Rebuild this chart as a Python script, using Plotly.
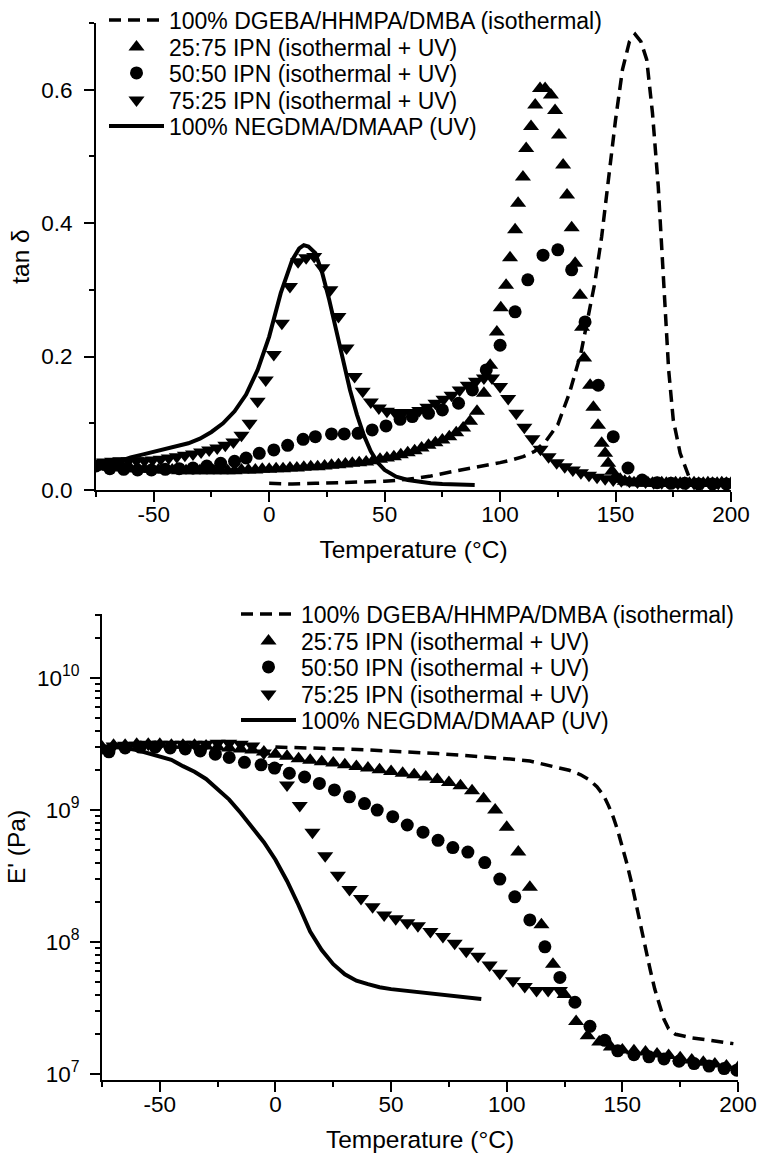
import plotly.graph_objects as go

FONT = "Liberation Sans, Arial, Helvetica, sans-serif"

series_names = [
    "100% DGEBA/HHMPA/DMBA (isothermal)",
    "25:75 IPN (isothermal + UV)",
    "50:50 IPN (isothermal + UV)",
    "75:25 IPN (isothermal + UV)",
    "100% NEGDMA/DMAAP (UV)",
]

# ---------------- top panel: tan delta ----------------
tan_dgeba_T = [0, 5, 10, 20, 30, 40, 50, 60, 70, 80, 90, 100, 105, 110, 115, 120, 125, 130, 135,
               138, 141, 144, 147, 150, 153, 156, 158.5, 161, 163.5, 166, 168.5, 170, 171.5, 173,
               175, 178, 182, 186, 190]
tan_dgeba = [0.010, 0.009, 0.009, 0.010, 0.011, 0.012, 0.013, 0.016, 0.021, 0.028, 0.034, 0.041,
             0.045, 0.050, 0.058, 0.074, 0.098, 0.145, 0.205, 0.255, 0.310, 0.380, 0.470, 0.555,
             0.630, 0.672, 0.683, 0.672, 0.645, 0.565, 0.455, 0.360, 0.260, 0.180, 0.105, 0.055,
             0.018, 0.010, 0.008]

tan_2575_T = [-75, -72, -69, -66, -63, -60, -57, -54, -51, -48, -45, -42, -39, -36, -33, -30, -27,
              -24, -21, -18, -15, -12, -9, -6, -3, 0, 3, 6, 9, 12, 15, 18, 21, 24, 27, 30, 33, 36,
              39, 42, 45, 48, 51, 54, 57, 60, 63, 66, 69, 72, 75, 78, 81, 84, 87, 90, 93,
              95.7, 98.6, 100.3, 102.6, 104.3, 106.5, 107.8, 109.9, 111.3, 113.4, 115.2, 117.3,
              119.5, 122, 123.8, 125.5, 127.3, 129, 131, 132.5, 134.6, 135.5, 136.4, 139, 140.4,
              142.4, 144, 145.5, 146.8, 148.5, 150, 152, 154, 156, 158, 160, 162, 164, 166, 168,
              170, 172, 174, 176, 178, 180, 182, 184, 186, 188, 190, 192, 194, 196, 198, 200]
tan_2575 = [0.035, 0.035, 0.034, 0.034, 0.033, 0.032, 0.032, 0.031, 0.031, 0.030, 0.030, 0.030,
            0.029, 0.029, 0.029, 0.029, 0.029, 0.029, 0.029, 0.029, 0.029, 0.030, 0.030, 0.030,
            0.031, 0.031, 0.032, 0.032, 0.033, 0.033, 0.034, 0.035, 0.035, 0.036, 0.037, 0.038,
            0.039, 0.040, 0.041, 0.042, 0.044, 0.046, 0.048, 0.050, 0.053, 0.056, 0.059, 0.063,
            0.067, 0.071, 0.075, 0.080, 0.086, 0.093, 0.103, 0.118, 0.145,
            0.187, 0.237, 0.273, 0.307, 0.348, 0.390, 0.430, 0.469, 0.512, 0.545, 0.577, 0.602,
            0.602, 0.592, 0.569, 0.532, 0.487, 0.442, 0.393, 0.340, 0.292, 0.244, 0.198, 0.157,
            0.124, 0.097, 0.070, 0.055, 0.040, 0.028, 0.020, 0.016, 0.013, 0.012, 0.011, 0.011,
            0.010, 0.011, 0.010, 0.010, 0.011, 0.010, 0.010, 0.011, 0.010, 0.010, 0.010, 0.011,
            0.010, 0.010, 0.011, 0.010, 0.010, 0.011, 0.010, 0.010]

tan_5050_T = [-75, -69, -63, -57, -51, -45, -39, -33, -27, -21, -15, -10, -4.3, 2, 8, 14.7, 20, 27,
              32.5, 38.5, 44.6, 50.6, 56.7, 62, 69, 75, 82, 88, 94, 100, 106.5, 112, 118.6, 125,
              131, 136.8, 142.5, 149, 155.4, 161.5, 168, 174, 180, 186, 192, 198]
tan_5050 = [0.036, 0.032, 0.031, 0.030, 0.030, 0.031, 0.032, 0.033, 0.036, 0.040, 0.043, 0.048,
            0.055, 0.060, 0.067, 0.076, 0.080, 0.084, 0.084, 0.085, 0.090, 0.096, 0.106, 0.110,
            0.115, 0.120, 0.130, 0.150, 0.180, 0.217, 0.267, 0.315, 0.352, 0.360, 0.330, 0.252,
            0.157, 0.080, 0.033, 0.015, 0.011, 0.010, 0.010, 0.009, 0.009, 0.009]

tan_7525_T = [-75, -71.5, -68, -64.5, -61, -57.5, -54, -50.5, -47, -43.5, -40, -36.5, -33, -29.5,
              -26, -22.5, -19, -15.5, -12, -8.5, -5, -1.5, 2, 5.5, 9, 12.5, 16, 19.5, 23, 26.5, 30,
              33.5, 37, 40.5, 44, 47.5, 51, 54.5, 58, 61.5, 65, 68.5, 72, 75.5, 79, 82.5, 86, 89.5,
              93, 96.5, 100, 103.5, 107, 110.5, 114, 117.5, 121, 124.5, 128, 131.5, 135, 138.5,
              142, 145.5, 149, 152.5, 156, 159.5, 163, 166.5, 170, 173.5, 177, 180.5, 184, 187.5,
              191, 194.5, 198]
tan_7525 = [0.040, 0.042, 0.043, 0.044, 0.044, 0.044, 0.044, 0.045, 0.046, 0.048, 0.050, 0.052,
            0.054, 0.057, 0.060, 0.063, 0.067, 0.072, 0.082, 0.100, 0.133, 0.165, 0.203, 0.250,
            0.305, 0.342, 0.348, 0.350, 0.333, 0.300, 0.260, 0.213, 0.170, 0.148, 0.132, 0.123,
            0.118, 0.116, 0.116, 0.116, 0.119, 0.124, 0.130, 0.136, 0.142, 0.150, 0.157, 0.163,
            0.168, 0.168, 0.155, 0.137, 0.115, 0.094, 0.077, 0.061, 0.050, 0.041, 0.035, 0.030,
            0.026, 0.022, 0.019, 0.017, 0.015, 0.014, 0.013, 0.012, 0.012, 0.011, 0.011, 0.011,
            0.010, 0.010, 0.010, 0.010, 0.010, 0.010, 0.010]

tan_negdma_T = [-70, -65, -60, -55, -50, -45, -40, -35, -30, -25, -20, -15, -10, -5, 0, 5, 10, 13,
                15, 17, 20, 23, 26, 29, 32, 35, 38, 41, 44, 47, 50, 55, 60, 65, 70, 75, 80, 85, 89]
tan_negdma = [0.037, 0.043, 0.049, 0.053, 0.057, 0.061, 0.065, 0.070, 0.077, 0.087, 0.100, 0.118,
              0.143, 0.180, 0.230, 0.295, 0.345, 0.362, 0.367, 0.365, 0.355, 0.325, 0.285, 0.240,
              0.195, 0.150, 0.113, 0.082, 0.058, 0.041, 0.030, 0.020, 0.015, 0.012, 0.010, 0.009,
              0.008, 0.008, 0.0075]

# ---------------- bottom panel: storage modulus ----------------
E_dgeba_T = [0, 10, 20, 30, 40, 50, 60, 70, 80, 90, 100, 110, 120, 127, 132, 136, 139, 142, 144,
             146, 148, 150, 152, 154, 156, 158, 160, 162, 164, 166, 168, 170, 173, 176, 180, 186,
             192, 198]
E_dgeba = [3.0e9, 2.98e9, 2.95e9, 2.9e9, 2.85e9, 2.8e9, 2.75e9, 2.68e9, 2.6e9, 2.53e9, 2.45e9,
           2.35e9, 2.15e9, 2.0e9, 1.85e9, 1.68e9, 1.5e9, 1.28e9, 1.08e9, 8.9e8, 7.0e8, 5.3e8,
           3.9e8, 2.8e8, 1.9e8, 1.3e8, 8.8e7, 6.2e7, 4.4e7, 3.3e7, 2.6e7, 2.2e7, 2.0e7, 1.95e7,
           1.88e7, 1.82e7, 1.76e7, 1.7e7]

E_2575_T = [-75, -70, -65, -60, -55, -50, -45, -40, -35, -30, -25, -20, -15, -10, -5, 0, 5, 10,
            15, 20, 25, 30, 35, 40, 45, 50, 55, 60, 65, 70, 75, 80, 85, 90, 95, 100, 105, 110,
            115, 120, 125, 130, 135, 140, 145, 150, 155, 160, 165, 170, 175, 180, 185, 190, 195, 200]
E_2575 = [3.0e9, 3.1e9, 3.1e9, 3.15e9, 3.15e9, 3.15e9, 3.1e9, 3.1e9, 3.1e9, 3.05e9, 3.0e9,
          2.95e9, 2.9e9, 2.85e9, 2.75e9, 2.65e9, 2.55e9, 2.45e9, 2.38e9, 2.32e9, 2.27e9, 2.2e9,
          2.14e9, 2.08e9, 2.02e9, 1.96e9, 1.9e9, 1.85e9, 1.78e9, 1.7e9, 1.62e9, 1.53e9, 1.4e9,
          1.22e9, 1.0e9, 7.4e8, 4.8e8, 2.6e8, 1.35e8, 6.8e7, 4.0e7, 2.5e7, 1.95e7, 1.75e7, 1.6e7,
          1.52e7, 1.5e7, 1.47e7, 1.42e7, 1.38e7, 1.33e7, 1.28e7, 1.23e7, 1.19e7, 1.15e7, 1.12e7]

E_5050_T = [-72, -65, -58.5, -52, -45.5, -39, -32.5, -26, -20, -13.4, -6.2, -0.4, 6, 12.6, 19,
            25.5, 32, 38.5, 44, 50.7, 57, 63.8, 70.3, 76.7, 83.2, 90.5, 97, 103.5, 110, 116.5,
            123, 129.5, 136, 142.4, 148, 155, 161.5, 168, 174.5, 181, 187.5, 194, 199.5]
E_5050 = [2.76e9, 2.95e9, 3.0e9, 3.0e9, 2.95e9, 2.9e9, 2.8e9, 2.65e9, 2.5e9, 2.3e9, 2.2e9,
          2.08e9, 1.9e9, 1.78e9, 1.59e9, 1.42e9, 1.26e9, 1.12e9, 1.0e9, 8.9e8, 7.7e8, 6.8e8,
          5.9e8, 5.2e8, 4.8e8, 4.0e8, 3.0e8, 2.2e8, 1.47e8, 9.2e7, 5.4e7, 3.5e7, 2.3e7, 1.8e7,
          1.5e7, 1.4e7, 1.35e7, 1.3e7, 1.25e7, 1.2e7, 1.15e7, 1.1e7, 1.07e7]

E_7525_T = [-75, -70, -65, -60, -55, -50, -45, -40, -35, -30, -25, -20, -15, -10, -5, 0, 5, 10.5,
            16, 21.5, 27, 32, 37, 42, 47, 52, 57, 61.6, 67, 72.4, 77.5, 82.5, 87.6, 92.6, 97,
            102.7, 107.8, 112.9, 117.9, 123]
E_7525 = [2.95e9, 3.05e9, 3.1e9, 3.1e9, 3.15e9, 3.15e9, 3.15e9, 3.15e9, 3.15e9, 3.15e9, 3.2e9,
          3.2e9, 3.15e9, 3.05e9, 2.7e9, 2.1e9, 1.55e9, 1.08e9, 6.8e8, 4.5e8, 3.2e8, 2.5e8, 2.14e8,
          1.85e8, 1.6e8, 1.5e8, 1.4e8, 1.33e8, 1.2e8, 1.1e8, 9.8e7, 8.5e7, 7.8e7, 6.7e7, 5.8e7,
          5.1e7, 4.6e7, 4.3e7, 4.3e7, 4.3e7]

E_negdma_T = [-70, -65, -60, -55, -50, -45, -40, -35, -30, -25, -20, -15, -10, -5, 0, 5, 10, 15,
              20, 25, 30, 35, 40, 45, 50, 55, 60, 65, 70, 75, 80, 85, 89]
E_negdma = [3.0e9, 2.95e9, 2.85e9, 2.7e9, 2.55e9, 2.4e9, 2.15e9, 1.95e9, 1.72e9, 1.45e9, 1.2e9,
            9.5e8, 7.4e8, 5.7e8, 4.2e8, 2.9e8, 1.9e8, 1.2e8, 8.7e7, 6.8e7, 5.7e7, 5.1e7, 4.8e7,
            4.55e7, 4.4e7, 4.3e7, 4.2e7, 4.1e7, 4.0e7, 3.9e7, 3.85e7, 3.78e7, 3.7e7]

x_ticks = [-50, 0, 50, 100, 150, 200]
x_ticktext = ["-50", "0", "50", "100", "150", "200"]
tan_ticks = [0.0, 0.2, 0.4, 0.6]
tan_ticktext = ["0.0", "0.2", "0.4", "0.6"]
E_ticks = [1e7, 1e8, 1e9, 1e10]
E_exponents = ["7", "8", "9", "10"]
E_ticktext = ["10<sup>%s</sup>" % e for e in E_exponents]
E_minor = [m * 10 ** d for d in range(7, 11) for m in range(2, 10)]
E_minor = [v for v in E_minor if v < 3.1e10]

# legend row centres (pixels from top of the figure)
legend_rows_top = [20, 47, 73, 100, 126]
legend_rows_bottom = [614, 641, 667, 694, 720]

W, H = 758, 1156
TICK_FS = 22.5
TITLE_FS = 24.5
LEG_FS = 23
DASH = "12px,7px"
fig = go.Figure()

styles = [
    dict(mode="lines", line=dict(color="black", width=3.5, dash=DASH)),
    dict(mode="markers", marker=dict(symbol="triangle-up", size=14, color="black")),
    dict(mode="markers", marker=dict(symbol="circle", size=13, color="black")),
    dict(mode="markers", marker=dict(symbol="triangle-down", size=14, color="black")),
    dict(mode="lines", line=dict(color="black", width=4)),
]


def add_panel(xa, ya, first_legend, data):
    for i, ((T, V), st) in enumerate(zip(data, styles)):
        k = first_legend + i
        leg = "legend" if k == 1 else "legend%d" % k
        fig.add_trace(go.Scatter(x=T, y=V, name=series_names[i], xaxis=xa, yaxis=ya,
                                 legend=leg, **st))


add_panel("x", "y", 1, [(tan_dgeba_T, tan_dgeba), (tan_2575_T, tan_2575),
                        (tan_5050_T, tan_5050), (tan_7525_T, tan_7525),
                        (tan_negdma_T, tan_negdma)])
add_panel("x2", "y2", 6, [(E_dgeba_T, E_dgeba), (E_2575_T, E_2575),
                          (E_5050_T, E_5050), (E_7525_T, E_7525),
                          (E_negdma_T, E_negdma)])

tickfont = dict(size=TICK_FS, color="black", family=FONT)
titlefont = dict(size=TITLE_FS, color="black", family=FONT)
minor_style = dict(ticks="outside", ticklen=5, tickwidth=2, tickcolor="black")
axis_common = dict(showline=True, linecolor="black", linewidth=2, showgrid=False, zeroline=False,
                   ticks="outside", ticklen=10, tickwidth=2, tickcolor="black",
                   tickfont=tickfont, mirror=False)

xcommon = dict(axis_common, range=[-75, 200], tickmode="array", tickvals=x_ticks,
               ticktext=x_ticktext, ticklabelstandoff=-7,
               minor=dict(minor_style, dtick=25, tick0=0),
               title=dict(text="Temperature (°C)", font=titlefont, standoff=15))

layout = dict(
    width=W, height=H,
    margin=dict(l=0, r=0, t=0, b=0, autoexpand=False),
    paper_bgcolor="white", plot_bgcolor="white",
    font=dict(family=FONT, size=20, color="black"),
    showlegend=True,
    xaxis=dict(xcommon, domain=[96 / W, 731 / W], anchor="y"),
    yaxis=dict(axis_common, domain=[1 - 490 / H, 1 - 23 / H], anchor="x", range=[0, 0.7],
               tickmode="array", tickvals=tan_ticks, ticktext=tan_ticktext, ticklabelstandoff=7,
               minor=dict(minor_style, dtick=0.1, tick0=0),
               title=dict(text="tan δ", font=titlefont, standoff=5)),
    xaxis2=dict(xcommon, domain=[102 / W, 738 / W], anchor="y2"),
    yaxis2=dict(axis_common, domain=[1 - 1080 / H, 1 - 614 / H], anchor="x2", type="log",
                range=[6.955, 10.485], tickmode="array", tickvals=E_ticks, ticktext=E_ticktext,
                ticklabelstandoff=6,
                minor=dict(minor_style, tickmode="array", tickvals=E_minor),
                title=dict(text="E' (Pa)", font=titlefont, standoff=4)),
)

for j, row in enumerate(legend_rows_top + legend_rows_bottom):
    k = j + 1
    key = "legend" if k == 1 else "legend%d" % k
    lx = 104 if j < 5 else 236
    layout[key] = dict(x=lx / W, y=1 - row / H, xanchor="left", yanchor="middle",
                       bgcolor="rgba(0,0,0,0)", borderwidth=0,
                       font=dict(size=LEG_FS, color="black", family=FONT), itemwidth=55)

fig.update_layout(**layout)
fig.write_html("out.html", config={"displayModeBar": False},
               post_script="document.body.style.margin='0px';")
